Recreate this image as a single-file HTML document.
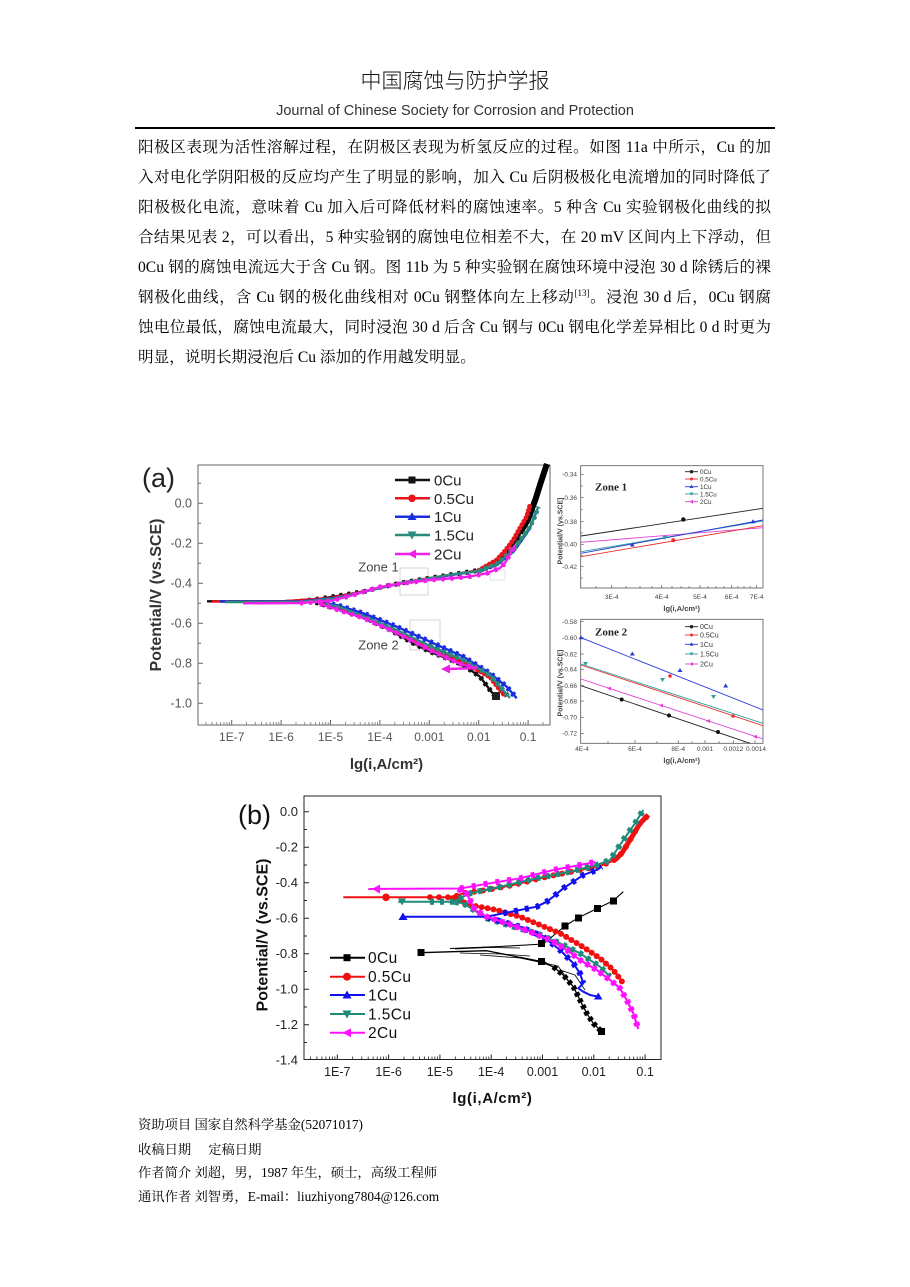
<!DOCTYPE html>
<html><head><meta charset="utf-8"><style>
html,body{margin:0;padding:0;background:#fff;}
body{width:910px;height:1287px;position:relative;overflow:hidden;}
.t{position:absolute;left:0;width:910px;text-align:center;}
.p{position:absolute;left:138px;width:633px;height:20px;line-height:20px;font-size:15.6px;color:#000;
font-family:"Liberation Serif","Noto Serif CJK SC",serif;text-align:justify;text-align-last:justify;white-space:nowrap;}
.f{position:absolute;left:138px;height:18px;line-height:18px;font-size:13.3px;color:#000;white-space:nowrap;
font-family:"Liberation Serif","Noto Serif CJK SC",serif;}
svg{position:absolute;left:0;top:0;}
</style></head><body>
<div class="t" style="top:66px;font-size:21px;line-height:28px;font-family:'Noto Sans CJK SC',sans-serif;font-weight:300;color:#111;">中国腐蚀与防护学报</div>
<div class="t" style="top:102px;font-size:14.5px;line-height:18px;font-family:'Liberation Sans',sans-serif;color:#333;">Journal of Chinese Society for Corrosion and Protection</div>
<div style="position:absolute;left:135px;top:127px;width:640px;height:2px;background:#000;"></div>

<div class="p" style="top:137.5px">阳极区表现为活性溶解过程，在阴极区表现为析氢反应的过程。如图 11a 中所示，Cu 的加</div>
<div class="p" style="top:167.6px">入对电化学阴阳极的反应均产生了明显的影响，加入 Cu 后阴极极化电流增加的同时降低了</div>
<div class="p" style="top:197.7px">阳极极化电流，意味着 Cu 加入后可降低材料的腐蚀速率。5 种含 Cu 实验钢极化曲线的拟</div>
<div class="p" style="top:227.8px">合结果见表 2，可以看出，5 种实验钢的腐蚀电位相差不大，在 20 mV 区间内上下浮动，但</div>
<div class="p" style="top:257.9px">0Cu 钢的腐蚀电流远大于含 Cu 钢。图 11b 为 5 种实验钢在腐蚀环境中浸泡 30 d 除锈后的裸</div>
<div class="p" style="top:288px">钢极化曲线，含 Cu 钢的极化曲线相对 0Cu 钢整体向左上移动<sup style="font-size:9px;line-height:0;">[13]</sup>。浸泡 30 d 后，0Cu 钢腐</div>
<div class="p" style="top:318.1px">蚀电位最低，腐蚀电流最大，同时浸泡 30 d 后含 Cu 钢与 0Cu 钢电化学差异相比 0 d 时更为</div>
<div class="p" style="top:348.2px;width:auto;text-align:left;text-align-last:left;">明显，说明长期浸泡后 Cu 添加的作用越发明显。</div>

<div class="f" style="top:1116px">资助项目 国家自然科学基金(52071017)</div>
<div class="f" style="top:1141px">收稿日期<span style="display:inline-block;width:17px"></span>定稿日期</div>
<div class="f" style="top:1163.7px">作者简介 刘超，男，1987 年生，硕士，高级工程师</div>
<div class="f" style="top:1188.3px">通讯作者 刘智勇，E-mail：liuzhiyong7804@126.com</div>

<svg width="910" height="1287" viewBox="0 0 910 1287" xmlns="http://www.w3.org/2000/svg" font-family="Liberation Sans, Arial, sans-serif">
<!-- ================= CHART (a) ================= -->
<g>
<rect x="198" y="465" width="352" height="260" fill="none" stroke="#666" stroke-width="1"/>
<!-- y ticks -->
<path d="M198 503.3h5M198 543.3h5M198 583.3h5M198 623.3h5M198 663.3h5M198 703.3h5M198 483.3h3M198 523.3h3M198 563.3h3M198 603.3h3M198 643.3h3M198 683.3h3" stroke="#666" stroke-width="1"/>
<!-- x ticks -->
<path d="M231.7 725v-5M281.1 725v-5M330.5 725v-5M379.9 725v-5M429.3 725v-5M478.7 725v-5M528.1 725v-5" stroke="#666" stroke-width="1"/>
<path d="M205.9 725v-3M212 725v-3M216.8 725v-3M220.7 725v-3M224 725v-3M226.9 725v-3M229.4 725v-3M246.6 725v-3M255.3 725v-3M261.4 725v-3M266.2 725v-3M270.1 725v-3M273.4 725v-3M276.3 725v-3M278.8 725v-3M296 725v-3M304.7 725v-3M310.8 725v-3M315.6 725v-3M319.5 725v-3M322.8 725v-3M325.7 725v-3M328.2 725v-3M345.4 725v-3M354.1 725v-3M360.2 725v-3M365 725v-3M368.9 725v-3M372.2 725v-3M375.1 725v-3M377.6 725v-3M394.8 725v-3M403.5 725v-3M409.6 725v-3M414.4 725v-3M418.3 725v-3M421.6 725v-3M424.5 725v-3M427 725v-3M444.2 725v-3M452.9 725v-3M459 725v-3M463.8 725v-3M467.7 725v-3M471 725v-3M473.9 725v-3M476.4 725v-3M493.6 725v-3M502.3 725v-3M508.4 725v-3M513.2 725v-3M517.1 725v-3M520.4 725v-3M523.3 725v-3M525.8 725v-3M543 725v-3" stroke="#777" stroke-width="0.8"/>
<g font-size="12.5" fill="#555" text-anchor="end">
<text x="192" y="507.5">0.0</text><text x="192" y="547.5">-0.2</text><text x="192" y="587.5">-0.4</text>
<text x="192" y="627.5">-0.6</text><text x="192" y="667.5">-0.8</text><text x="192" y="707.5">-1.0</text>
</g>
<g font-size="12" fill="#555" text-anchor="middle">
<text x="231.7" y="741">1E-7</text><text x="281.1" y="741">1E-6</text><text x="330.5" y="741">1E-5</text>
<text x="379.9" y="741">1E-4</text><text x="429.3" y="741">0.001</text><text x="478.7" y="741">0.01</text><text x="528.1" y="741">0.1</text>
</g>
<text x="386.5" y="769" font-size="15" font-weight="bold" fill="#333" text-anchor="middle">lg(i,A/cm²)</text>
<text transform="translate(161,595) rotate(-90)" font-size="16" font-weight="bold" fill="#333" text-anchor="middle">Potential/V (vs.SCE)</text>
<text x="142" y="487" font-size="27" fill="#222">(a)</text>
<!-- zone boxes -->
<rect x="400" y="568" width="28" height="27" fill="none" stroke="#ccc" stroke-width="0.8"/>
<rect x="490" y="570" width="15" height="10" fill="none" stroke="#ddd" stroke-width="0.8"/>
<rect x="410" y="620" width="30" height="30" fill="none" stroke="#ccc" stroke-width="0.8"/>
<text x="378.5" y="571.5" font-size="13" fill="#444" text-anchor="middle">Zone 1</text>
<text x="378.5" y="649.5" font-size="13" fill="#444" text-anchor="middle">Zone 2</text>
<!-- curves -->
<g fill="none" stroke-linejoin="round">
<path d="M207,601.3 L281,601.3 L315.7,599.5 L340.4,595.5 L365,591.3 L380,587.3 L405,582.3 L429,578.3 L454,574.3 L479,570.3 L493.5,565.3 L508.3,553.3 L518.2,537.3 L528.1,519.3 L535.5,499.3 L540.5,483.3 L546.9,464" stroke="#111" stroke-width="2.4"/>
<path d="M300,601.3 L315.7,599.5 L340.4,595.5 L365,591.3 L380,587.3 L405,582.3 L429,578.3 L454,574.3 L479,570.3 L493.5,565.3 L508.3,553.3 L518.2,537.3 L528.1,519.3 L535.5,499.3 L540.5,483.3 L546.9,464" stroke="#111" stroke-width="5" stroke-dasharray="3 5"/>
<path d="M520,533 L528.1,519.3 L535.5,499.3 L540.5,483.3 L546.9,464" stroke="#000" stroke-width="6"/>
<path d="M315.7,602.3 L330,606.7 L363.3,616.7 L390,630 L413.3,643.3 L430,651.7 L446.7,658.3 L463.3,665 L480,676.7 L490,690 L496.7,698.3" stroke="#111" stroke-width="2.4"/>
<path d="M315.7,602.3 L330,606.7 L363.3,616.7 L390,630 L413.3,643.3 L430,651.7 L446.7,658.3 L463.3,665 L480,676.7 L490,690 L496.7,698.3" stroke="#111" stroke-width="5" stroke-dasharray="3 4"/>
<rect x="492" y="692" width="8" height="8" fill="#222"/>

<path d="M212,601.5 L281,601.5 L330,598 L365,591 L405,582 L430,578 L455,574 L479,570.3 L496.7,560 L505,551 L513.3,540 L520,528 L526.7,516.7 L530,505" stroke="#e8141c" stroke-width="2.4"/>
<path d="M479,570.3 L496.7,560 L505,551 L513.3,540 L520,528 L526.7,516.7 L530,505" stroke="#e8141c" stroke-width="5" stroke-linecap="round" stroke-dasharray="0 4"/>
<path d="M320,603 L330,606 L363.3,617 L396.7,632 L430,649 L463.3,662 L490,677 L500,690 L506,697" stroke="#e8141c" stroke-width="2.4"/>
<path d="M430,649 L463.3,662 L490,677 L500,690 L506,697" stroke="#e8141c" stroke-width="5" stroke-linecap="round" stroke-dasharray="0 4"/>

<path d="M220,601.5 L300,601.5 L335,598 L365,591.5 L405,582.5 L430,578.5 L455,574.5 L479,571 L496.7,565 L513.3,552 L522,540 L530,528 L536,512" stroke="#1a2ee0" stroke-width="2.4"/>
<path d="M325,603 L336.7,605 L363.3,613.3 L396.7,626.7 L430,641.7 L463.3,656.7 L490,673.3 L506.7,686.7 L516.7,698.3" stroke="#1a2ee0" stroke-width="2.4"/>
<path d="M325,603 L336.7,605 L363.3,613.3 L396.7,626.7 L430,641.7 L463.3,656.7 L490,673.3 L506.7,686.7 L516.7,698.3" stroke="#1a2ee0" stroke-width="5.5" stroke-dasharray="3 4"/>

<path d="M225,602 L300,602 L335,598.5 L365,591.5 L405,582 L430,578 L455,574 L479,571 L496.7,564 L513.3,550 L522,538 L530,526.7 L535,516 L538.3,506.7" stroke="#2a8a7e" stroke-width="2.4"/>
<path d="M479,571 L496.7,564 L513.3,550 L522,538 L530,526.7 L535,516 L538.3,506.7" stroke="#2a8a7e" stroke-width="5" stroke-dasharray="3 3"/>
<path d="M325,604 L336.7,606 L363.3,616 L396.7,630 L430,646 L463.3,660 L490,675 L503,690 L510,698" stroke="#2a8a7e" stroke-width="2.4"/>
<path d="M430,646 L463.3,660 L490,675 L503,690 L510,698" stroke="#2a8a7e" stroke-width="5" stroke-dasharray="3 4"/>

<path d="M243,603.3 L300,603 L330,601 L350,596 L365,591.3 L380,587 L405,583 L430,580 L455,578 L470,576.5 L486.7,573.3 L500,568 L505,563 L511.7,551 L515,545" stroke="#f020e8" stroke-width="2.4"/>
<path d="M300,603 L330,601 L350,596 L365,591.3 L380,587 L405,583 L430,580 L455,578 L470,576.5 L486.7,573.3 L500,568 L505,563 L511.7,551 L515,545" stroke="#f020e8" stroke-width="5" stroke-dasharray="3 6"/>
<path d="M320,604 L363.3,618 L396.7,633 L430,650 L460,664 L476,668 L448,669" stroke="#f020e8" stroke-width="2.4"/>
<path d="M320,604 L363.3,618 L396.7,633 L430,650 L460,664 L476,668" stroke="#f020e8" stroke-width="5" stroke-dasharray="3 5"/>
<polygon points="441,669 450,664.5 450,673.5" fill="#f020e8"/>
</g>
<!-- legend (a) -->
<g stroke-width="2.5">
<line x1="395" y1="480" x2="430" y2="480" stroke="#111"/><rect x="408.5" y="476.5" width="7" height="7" fill="#111"/>
<line x1="395" y1="498.3" x2="430" y2="498.3" stroke="#e8141c"/><circle cx="412" cy="498.3" r="3.8" fill="#e8141c"/>
<line x1="395" y1="516.7" x2="430" y2="516.7" stroke="#1a2ee0"/><polygon points="412,512.2 416.5,520 407.5,520" fill="#1a2ee0"/>
<line x1="395" y1="535" x2="430" y2="535" stroke="#2a8a7e"/><polygon points="407.5,531.5 416.5,531.5 412,539.5" fill="#2a8a7e"/>
<line x1="395" y1="554" x2="430" y2="554" stroke="#f020e8"/><polygon points="407.5,554 416,549.5 416,558.5" fill="#f020e8"/>
</g>
<g font-size="15" fill="#222">
<text x="434" y="485.5">0Cu</text><text x="434" y="503.8">0.5Cu</text><text x="434" y="522.2">1Cu</text><text x="434" y="540.5">1.5Cu</text><text x="434" y="559.5">2Cu</text>
</g>
</g>

<!-- ================= INSET ZONE 1 ================= -->
<g>
<rect x="580.7" y="465.7" width="182.3" height="122.3" fill="#fff" stroke="#555" stroke-width="0.8"/>
<path d="M580.7 474.3h3M580.7 497.7h3M580.7 521.7h3M580.7 544.3h3M580.7 566.7h3M580.7 486h2M580.7 509.7h2M580.7 533h2M580.7 555.5h2M580.7 578h2M611.7 588v-3M661.7 588v-3M700 588v-3M731.7 588v-3M756.7 588v-3M596 588v-2M626 588v-2M640 588v-2M652 588v-2M672 588v-2M681 588v-2M689 588v-2M708 588v-2M716 588v-2M724 588v-2M738 588v-2M744 588v-2M750 588v-2" stroke="#555" stroke-width="0.7"/>
<g font-size="6.5" fill="#444" text-anchor="end">
<text x="577" y="476.5">-0.34</text><text x="577" y="500">-0.36</text><text x="577" y="524">-0.38</text><text x="577" y="546.5">-0.40</text><text x="577" y="569">-0.42</text>
</g>
<g font-size="6.5" fill="#444" text-anchor="middle">
<text x="611.7" y="599">3E-4</text><text x="661.7" y="599">4E-4</text><text x="700" y="599">5E-4</text><text x="731.7" y="599">6E-4</text><text x="756.7" y="599">7E-4</text>
</g>
<text x="681.7" y="611" font-size="7.5" font-weight="bold" fill="#444" text-anchor="middle">lg(i,A/cm²)</text>
<text transform="translate(562.5,531) rotate(-90)" font-size="7" font-weight="bold" fill="#444" text-anchor="middle">Potential/V (vs.SCE)</text>
<text x="595" y="490.5" font-size="11" font-weight="bold" fill="#222" font-family="Liberation Serif, serif">Zone 1</text>
<g stroke-width="0.9" fill="none">
<line x1="581" y1="536" x2="763" y2="508.3" stroke="#222"/>
<line x1="581" y1="542.3" x2="763" y2="527.7" stroke="#e040d8"/>
<line x1="581" y1="551.7" x2="763" y2="521" stroke="#30a0a0"/>
<line x1="581" y1="553.3" x2="763" y2="520" stroke="#2a3ad8"/>
<line x1="581" y1="556.7" x2="763" y2="525.7" stroke="#e83030"/>
</g>
<circle cx="683.3" cy="519.5" r="2.2" fill="#111"/>
<circle cx="673.3" cy="540.3" r="2" fill="#e83030"/>
<polygon points="632.3,542.5 634.8,546.5 629.8,546.5" fill="#2a3ad8"/>
<polygon points="753,519.2 755.5,523.2 750.5,523.2" fill="#2a3ad8"/>
<polygon points="662.5,536 667.5,536 665,540" fill="#30a0a0"/>
<g stroke-width="0.9">
<line x1="685" y1="471.7" x2="698" y2="471.7" stroke="#222"/><circle cx="691.5" cy="471.7" r="1.7" fill="#222"/>
<line x1="685" y1="479" x2="698" y2="479" stroke="#e83030"/><circle cx="691.5" cy="479" r="1.5" fill="#e83030"/>
<line x1="685" y1="486.7" x2="698" y2="486.7" stroke="#2a3ad8"/><polygon points="691.5,484.7 693.5,488 689.5,488" fill="#2a3ad8"/>
<line x1="685" y1="494" x2="698" y2="494" stroke="#30a0a0"/><polygon points="689.5,492.5 693.5,492.5 691.5,495.8" fill="#30a0a0"/>
<line x1="685" y1="501.7" x2="698" y2="501.7" stroke="#e040d8"/><polygon points="689.5,501.7 693,499.7 693,503.7" fill="#e040d8"/>
</g>
<g font-size="6.3" fill="#333">
<text x="700" y="474">0Cu</text><text x="700" y="481.3">0.5Cu</text><text x="700" y="489">1Cu</text><text x="700" y="496.3">1.5Cu</text><text x="700" y="504">2Cu</text>
</g>
</g>

<!-- ================= INSET ZONE 2 ================= -->
<g>
<rect x="580.7" y="619.3" width="182.3" height="124" fill="#fff" stroke="#555" stroke-width="0.8"/>
<path d="M580.7 621.7h3M580.7 637.7h3M580.7 654h3M580.7 669.3h3M580.7 685.7h3M580.7 701h3M580.7 717.3h3M580.7 733.3h3M635 743.3v-3M678.3 743.3v-3M705 743.3v-3M733.3 743.3v-3M755 743.3v-3M608 743.3v-2M657 743.3v-2M692 743.3v-2M719 743.3v-2M744 743.3v-2" stroke="#555" stroke-width="0.7"/>
<g font-size="6.5" fill="#444" text-anchor="end">
<text x="577" y="624">-0.58</text><text x="577" y="640">-0.60</text><text x="577" y="656.3">-0.62</text><text x="577" y="671.6">-0.64</text>
<text x="577" y="688">-0.66</text><text x="577" y="703.3">-0.68</text><text x="577" y="719.6">-0.70</text><text x="577" y="735.6">-0.72</text>
</g>
<g font-size="6.5" fill="#444" text-anchor="middle">
<text x="582" y="751">4E-4</text><text x="635" y="751">6E-4</text><text x="678.3" y="751">8E-4</text><text x="705" y="751">0.001</text><text x="733.3" y="751">0.0012</text><text x="756" y="751">0.0014</text>
</g>
<text x="681.7" y="763" font-size="7.5" font-weight="bold" fill="#444" text-anchor="middle">lg(i,A/cm²)</text>
<text transform="translate(562.5,683) rotate(-90)" font-size="7" font-weight="bold" fill="#444" text-anchor="middle">Potential/V (vs.SCE)</text>
<text x="595" y="635.5" font-size="11" font-weight="bold" fill="#222" font-family="Liberation Serif, serif">Zone 2</text>
<g stroke-width="0.9" fill="none">
<line x1="581" y1="637.7" x2="763" y2="710" stroke="#2a3ad8"/>
<line x1="581" y1="664" x2="763" y2="723.3" stroke="#30a0a0"/>
<line x1="581" y1="665" x2="763" y2="725.7" stroke="#e83030"/>
<line x1="581" y1="679" x2="763" y2="739" stroke="#e040d8"/>
<line x1="581" y1="685.7" x2="750" y2="743.3" stroke="#222"/>
</g>
<g>
<polygon points="581,635.2 583.5,639.2 578.5,639.2" fill="#2a3ad8"/><polygon points="632.3,651.5 634.8,655.5 629.8,655.5" fill="#2a3ad8"/>
<polygon points="680,668 682.5,672 677.5,672" fill="#2a3ad8"/><polygon points="725.7,683.5 728.2,687.5 723.2,687.5" fill="#2a3ad8"/>
<circle cx="670" cy="676" r="1.8" fill="#e83030"/><circle cx="733" cy="716" r="1.8" fill="#e83030"/>
<polygon points="583,662 588,662 585.5,666" fill="#30a0a0"/><polygon points="660,678 665,678 662.5,682" fill="#30a0a0"/><polygon points="711,695 716,695 713.5,699" fill="#30a0a0"/>
<polygon points="607,688.5 611,686.5 611,690.5" fill="#e040d8"/><polygon points="659,705.5 663,703.5 663,707.5" fill="#e040d8"/><polygon points="706,721 710,719 710,723" fill="#e040d8"/><polygon points="753,736.7 757,734.7 757,738.7" fill="#e040d8"/>
<circle cx="621.7" cy="699.5" r="2" fill="#111"/><circle cx="669" cy="715.5" r="2" fill="#111"/><circle cx="718" cy="732" r="2" fill="#111"/>
</g>
<g stroke-width="0.9">
<line x1="685" y1="626.7" x2="698" y2="626.7" stroke="#222"/><circle cx="691.5" cy="626.7" r="1.7" fill="#222"/>
<line x1="685" y1="635" x2="698" y2="635" stroke="#e83030"/><circle cx="691.5" cy="635" r="1.5" fill="#e83030"/>
<line x1="685" y1="644.3" x2="698" y2="644.3" stroke="#2a3ad8"/><polygon points="691.5,642.3 693.5,645.6 689.5,645.6" fill="#2a3ad8"/>
<line x1="685" y1="654" x2="698" y2="654" stroke="#30a0a0"/><polygon points="689.5,652.5 693.5,652.5 691.5,655.8" fill="#30a0a0"/>
<line x1="685" y1="664" x2="698" y2="664" stroke="#e040d8"/><polygon points="689.5,664 693,662 693,666" fill="#e040d8"/>
</g>
<g font-size="7" fill="#333">
<text x="700" y="629.2">0Cu</text><text x="700" y="637.5">0.5Cu</text><text x="700" y="646.8">1Cu</text><text x="700" y="656.5">1.5Cu</text><text x="700" y="666.5">2Cu</text>
</g>
</g>

<!-- ================= CHART (b) ================= -->
<g>
<rect x="304" y="796" width="357" height="263.5" fill="none" stroke="#222" stroke-width="1"/>
<path d="M304 811.7h5M304 847.2h5M304 882.7h5M304 918.2h5M304 953.7h5M304 989.2h5M304 1024.7h5M304 829.5h3M304 865h3M304 900.5h3M304 936h3M304 971.5h3M304 1007h3M304 1042.5h3" stroke="#222" stroke-width="1"/>
<path d="M337.3 1059.5v-5M388.6 1059.5v-5M439.9 1059.5v-5M491.2 1059.5v-5M542.5 1059.5v-5M593.8 1059.5v-5M645.1 1059.5v-5" stroke="#222" stroke-width="1"/>
<path d="M310.5 1059.5v-3M316.9 1059.5v-3M321.9 1059.5v-3M325.9 1059.5v-3M329.4 1059.5v-3M332.3 1059.5v-3M334.9 1059.5v-3M352.7 1059.5v-3M361.8 1059.5v-3M368.2 1059.5v-3M373.2 1059.5v-3M377.2 1059.5v-3M380.7 1059.5v-3M383.6 1059.5v-3M386.2 1059.5v-3M404 1059.5v-3M413.1 1059.5v-3M419.5 1059.5v-3M424.5 1059.5v-3M428.5 1059.5v-3M432 1059.5v-3M434.9 1059.5v-3M437.5 1059.5v-3M455.3 1059.5v-3M464.4 1059.5v-3M470.8 1059.5v-3M475.8 1059.5v-3M479.8 1059.5v-3M483.3 1059.5v-3M486.2 1059.5v-3M488.8 1059.5v-3M506.6 1059.5v-3M515.7 1059.5v-3M522.1 1059.5v-3M527.1 1059.5v-3M531.1 1059.5v-3M534.6 1059.5v-3M537.5 1059.5v-3M540.1 1059.5v-3M557.9 1059.5v-3M567 1059.5v-3M573.4 1059.5v-3M578.4 1059.5v-3M582.4 1059.5v-3M585.9 1059.5v-3M588.8 1059.5v-3M591.4 1059.5v-3M609.2 1059.5v-3M618.3 1059.5v-3M624.7 1059.5v-3M629.7 1059.5v-3M633.7 1059.5v-3M637.2 1059.5v-3M640.1 1059.5v-3M642.7 1059.5v-3" stroke="#222" stroke-width="0.8"/>
<g font-size="13" fill="#222" text-anchor="end">
<text x="298" y="816.2">0.0</text><text x="298" y="851.7">-0.2</text><text x="298" y="887.2">-0.4</text><text x="298" y="922.7">-0.6</text>
<text x="298" y="958.2">-0.8</text><text x="298" y="993.7">-1.0</text><text x="298" y="1029.2">-1.2</text><text x="298" y="1064.7">-1.4</text>
</g>
<g font-size="12.5" fill="#222" text-anchor="middle">
<text x="337.3" y="1076">1E-7</text><text x="388.6" y="1076">1E-6</text><text x="439.9" y="1076">1E-5</text><text x="491.2" y="1076">1E-4</text>
<text x="542.5" y="1076">0.001</text><text x="593.8" y="1076">0.01</text><text x="645.1" y="1076">0.1</text>
</g>
<text x="492.5" y="1103" font-size="15" font-weight="bold" fill="#111" text-anchor="middle" letter-spacing="0.6">lg(i,A/cm²)</text>
<text transform="translate(267.5,935) rotate(-90)" font-size="16" font-weight="bold" fill="#111" text-anchor="middle">Potential/V (vs.SCE)</text>
<text x="238" y="824" font-size="27" fill="#111">(b)</text>

<g fill="none" stroke-linejoin="round">
<!-- 0Cu -->
<path d="M420,952.7 L453,951.7 L486.7,950.7 L516.7,956.7 L540,961.7 L553.3,966.7 L563.3,975 L573.3,986.7 L580,1000 L586.7,1013.3 L593.3,1023.3 L601.7,1031.7" stroke="#000" stroke-width="1.3"/>
<path d="M553.3,966.7 L563.3,975 L573.3,986.7 L580,1000 L586.7,1013.3 L593.3,1023.3 L601.7,1031.7" stroke="#000" stroke-width="5.5" stroke-dasharray="4 3"/>
<path d="M450,948.5 L500,946.5 L543.3,944 L565,926 L578.3,917.7 L597.7,908.3 L613.3,900.7 L623.3,891.7" stroke="#000" stroke-width="1.1"/>
<path d="M455,949 L490,947.5 L520,948 M460,953 L500,954 L530,956 M480,955 L520,958 L548,964 M520,957 L545,962 L560,972 M540,962 L558,966 L568,980 M560,970 L575,975 L585,990" stroke="#000" stroke-width="0.8"/>
<!-- 0.5Cu -->
<path d="M343.3,897.3 L453.3,897.3 L463.3,893.3 L486.7,890 L513.3,885 L546.7,876.7 L580,870 L600,866 L613,861 L622,853 L630,840 L640,823.3 L648.3,815" stroke="#f01010" stroke-width="2"/>
<path d="M430,897.3 L453.3,897.3 L463.3,893.3 L486.7,890 L513.3,885 L546.7,876.7 L580,870 L600,866 L613,861 L622,853 L630,840 L640,823.3 L648.3,815" stroke="#f01010" stroke-width="6" stroke-linecap="round" stroke-dasharray="0 9"/>
<path d="M615,860 L622,853 L630,840 L640,823.3 L648.3,815" stroke="#f01010" stroke-width="5"/>
<path d="M453.3,898 L470,905 L496.7,910 L520,916.7 L540,925 L560,933.3 L580,945 L600,958.3 L613.3,970 L623.3,983.3" stroke="#f01010" stroke-width="2"/>
<path d="M453.3,898 L470,905 L496.7,910 L520,916.7 L540,925 L560,933.3 L580,945 L600,958.3 L613.3,970 L623.3,983.3" stroke="#f01010" stroke-width="6" stroke-linecap="round" stroke-dasharray="0 6"/>
<!-- 1.5Cu -->
<path d="M398.3,901.7 L453.3,901.7 L470,893.3 L503.3,886 L536.7,878.3 L570,871.7 L596.7,865 L610,860 L623.3,840 L635,823.3 L643.3,810" stroke="#1e8a7a" stroke-width="2"/>
<path d="M430,901.7 L453.3,901.7 L470,893.3 L503.3,886 L536.7,878.3 L570,871.7 L596.7,865 L610,860 L623.3,840 L635,823.3 L643.3,810" stroke="#1e8a7a" stroke-width="6" stroke-dasharray="4 6"/>
<path d="M455,902 L463.3,903.3 L486.7,918.3 L513.3,926.7 L536.7,933.3 L560,943.3 L580,953.3 L600,966.7 L610,976.7" stroke="#1e8a7a" stroke-width="2"/>
<path d="M455,902 L463.3,903.3 L486.7,918.3 L513.3,926.7 L536.7,933.3 L560,943.3 L580,953.3 L600,966.7 L610,976.7" stroke="#1e8a7a" stroke-width="6" stroke-dasharray="4 5"/>
<!-- 1Cu -->
<path d="M403.3,916.7 L486.7,916.7 L503.3,913.3 L520,910 L536.7,906.7 L546.7,901.7 L553.3,896.7 L563.3,888.3 L573.3,881.7 L583.3,875 L596.7,870 L601.7,866.7" stroke="#1010f0" stroke-width="2"/>
<path d="M503.3,913.3 L520,910 L536.7,906.7 L546.7,901.7 L553.3,896.7 L563.3,888.3 L573.3,881.7 L583.3,875 L596.7,870 L601.7,866.7" stroke="#1010f0" stroke-width="6" stroke-dasharray="4 7"/>
<path d="M486.7,917.3 L520,926.7 L543.3,936.7 L560,950 L573.3,963.3 L580,973.3 L583.3,983.3 L578.3,988.3 L583.3,991.7 L590,995 L598.3,996.7" stroke="#1010f0" stroke-width="2"/>
<path d="M486.7,917.3 L520,926.7 L543.3,936.7 L560,950 L573.3,963.3 L580,973.3 L583.3,983.3" stroke="#1010f0" stroke-width="6" stroke-dasharray="4 6"/>
<polygon points="598.3,992.5 602.5,999.5 594,999.5" fill="#1010f0"/>
<!-- 2Cu -->
<path d="M368.3,889 L460,888.5 L493.3,882.7 L520,878.3 L553.3,870 L580,865 L595,862" stroke="#ff10ff" stroke-width="2"/>
<path d="M460,888.5 L493.3,882.7 L520,878.3 L553.3,870 L580,865 L595,862" stroke="#ff10ff" stroke-width="6" stroke-dasharray="4 8"/>
<path d="M458,889 L466,893 L470,900 L475,910 L486.7,916.7 L506.7,923.3 L530,931.7 L553.3,941.7 L566.7,950 L580,960 L596.7,970 L610,980 L620,988.3 L626.7,1000 L633.3,1013.3 L638.3,1029" stroke="#ff10ff" stroke-width="2.2"/>
<path d="M458,889 L466,893 L470,900 L475,910 L486.7,916.7 L506.7,923.3 L530,931.7 L553.3,941.7 L566.7,950 L580,960 L596.7,970 L610,980 L620,988.3 L626.7,1000 L633.3,1013.3 L638.3,1029" stroke="#ff10ff" stroke-width="6" stroke-dasharray="4 4"/>
</g>
<!-- explicit markers (b) -->
<g fill="#000">
<rect x="417.5" y="949" width="7" height="7"/><rect x="538" y="940" width="7" height="7"/><rect x="561.5" y="922.5" width="7" height="7"/>
<rect x="575" y="914.5" width="7" height="7"/><rect x="594" y="905" width="7" height="7"/><rect x="610" y="897.5" width="7" height="7"/>
<rect x="538" y="958" width="7" height="7"/><rect x="598" y="1028" width="7" height="7"/>
</g>
<polygon points="403,912.5 407.5,920 398.5,920" fill="#1010f0"/>
<polygon points="398,898.5 406,898.5 402,905.5" fill="#1e8a7a"/>
<polygon points="372,889 380,884.5 380,893.5" fill="#ff10ff"/>
<circle cx="386" cy="897.3" r="3.8" fill="#f01010"/>
<!-- legend (b) -->
<g stroke-width="2">
<line x1="330" y1="957.7" x2="365" y2="957.7" stroke="#000"/><rect x="343.5" y="954.2" width="7" height="7" fill="#000"/>
<line x1="330" y1="976.7" x2="365" y2="976.7" stroke="#f01010"/><circle cx="347" cy="976.7" r="4" fill="#f01010"/>
<line x1="330" y1="995" x2="365" y2="995" stroke="#1010f0"/><polygon points="347,990.5 351.5,998.5 342.5,998.5" fill="#1010f0"/>
<line x1="330" y1="1014" x2="365" y2="1014" stroke="#1e8a7a"/><polygon points="342.5,1010.5 351.5,1010.5 347,1018.5" fill="#1e8a7a"/>
<line x1="330" y1="1032.7" x2="365" y2="1032.7" stroke="#ff10ff"/><polygon points="342.5,1032.7 351,1028.2 351,1037.2" fill="#ff10ff"/>
</g>
<g font-size="15.5" fill="#111" letter-spacing="0.4">
<text x="368" y="963.2">0Cu</text><text x="368" y="982.2">0.5Cu</text><text x="368" y="1000.5">1Cu</text><text x="368" y="1019.5">1.5Cu</text><text x="368" y="1038.2">2Cu</text>
</g>
</g>
</svg>
</body></html>
